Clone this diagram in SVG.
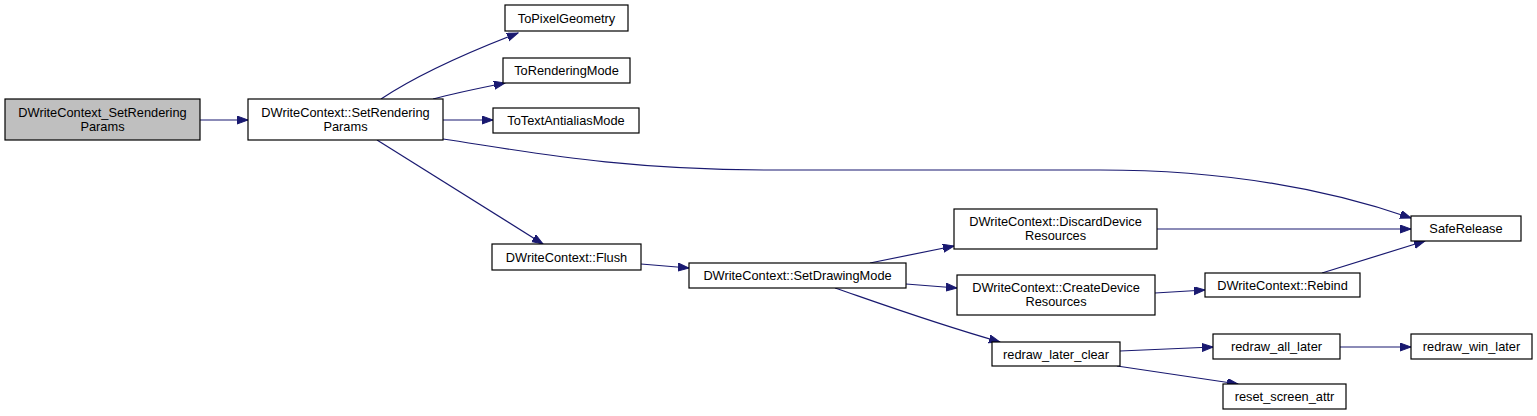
<svg xmlns="http://www.w3.org/2000/svg" width="1537" height="416" viewBox="0 0 1537 416">
<style>
.n rect{fill:#ffffff;stroke:#000000;stroke-width:1.2}
.n.root rect{fill:#bfbfbf}
.n text{font-family:"Liberation Sans",Arial,Helvetica,sans-serif;font-size:12.8px;fill:#000000;text-anchor:middle}
.e path{fill:none;stroke:#191970;stroke-width:1.2;marker-end:url(#ah)}
</style>
<defs>
<marker id="ah" markerUnits="userSpaceOnUse" markerWidth="12" markerHeight="9" refX="11" refY="4" orient="auto">
<path d="M0,0 L11,4 L0,8 z" fill="#191970" stroke="#191970" stroke-width="1"/>
</marker>
</defs>
<rect width="1537" height="416" fill="#ffffff"/>
<g id="edges" class="e">
<path d="M200,120 L248,120"/>
<path d="M381,99 C405,83 440,63 518,33"/>
<path d="M433,99 C455,93 480,88 505,83"/>
<path d="M443,120 L493,120"/>
<path d="M443,139 C530,152 620,170 770,170 L1100,170 C1230,170 1330,190 1411,218"/>
<path d="M377,140 L543,244"/>
<path d="M641,264 L689,268"/>
<path d="M870,263 L954,246"/>
<path d="M906,284 L957,288"/>
<path d="M835,288 C870,300 930,322 1000,342"/>
<path d="M1157,229 L1411,229"/>
<path d="M1155,293 L1205,290"/>
<path d="M1322,273 L1425,241"/>
<path d="M1120,351 L1213,347"/>
<path d="M1117,366 L1238,384"/>
<path d="M1340,347 L1411,347"/>
</g>
<g id="n0" class="n root"><rect x="5" y="99" width="195" height="41"/><text x="102.5" y="117">DWriteContext_SetRendering</text><text x="102.5" y="131">Params</text></g>
<g id="n1" class="n"><rect x="248" y="99" width="195" height="41"/><text x="345.5" y="117">DWriteContext::SetRendering</text><text x="345.5" y="131">Params</text></g>
<g id="n2" class="n"><rect x="505" y="5" width="123" height="26"/><text x="566.5" y="22.5">ToPixelGeometry</text></g>
<g id="n3" class="n"><rect x="503" y="58" width="127" height="25"/><text x="566.5" y="75">ToRenderingMode</text></g>
<g id="n4" class="n"><rect x="493" y="108" width="146" height="25"/><text x="566" y="125">ToTextAntialiasMode</text></g>
<g id="n5" class="n"><rect x="492" y="244" width="149" height="26"/><text x="566.5" y="261.5">DWriteContext::Flush</text></g>
<g id="n6" class="n"><rect x="689" y="263" width="217" height="25"/><text x="797.5" y="280">DWriteContext::SetDrawingMode</text></g>
<g id="n7" class="n"><rect x="954" y="209" width="203" height="40"/><text x="1055.5" y="226">DWriteContext::DiscardDevice</text><text x="1055.5" y="240">Resources</text></g>
<g id="n8" class="n"><rect x="957" y="275" width="198" height="40"/><text x="1056" y="292">DWriteContext::CreateDevice</text><text x="1056" y="306">Resources</text></g>
<g id="n9" class="n"><rect x="992" y="342" width="128" height="24"/><text x="1056" y="358.5">redraw_later_clear</text></g>
<g id="n10" class="n"><rect x="1411" y="216" width="110" height="25"/><text x="1466" y="233">SafeRelease</text></g>
<g id="n11" class="n"><rect x="1205" y="273" width="155" height="24"/><text x="1282.5" y="289.5">DWriteContext::Rebind</text></g>
<g id="n12" class="n"><rect x="1213" y="334" width="127" height="25"/><text x="1276.5" y="351">redraw_all_later</text></g>
<g id="n13" class="n"><rect x="1411" y="334" width="121" height="25"/><text x="1471.5" y="351">redraw_win_later</text></g>
<g id="n14" class="n"><rect x="1223" y="384" width="123" height="25"/><text x="1284.5" y="401">reset_screen_attr</text></g>
</svg>
